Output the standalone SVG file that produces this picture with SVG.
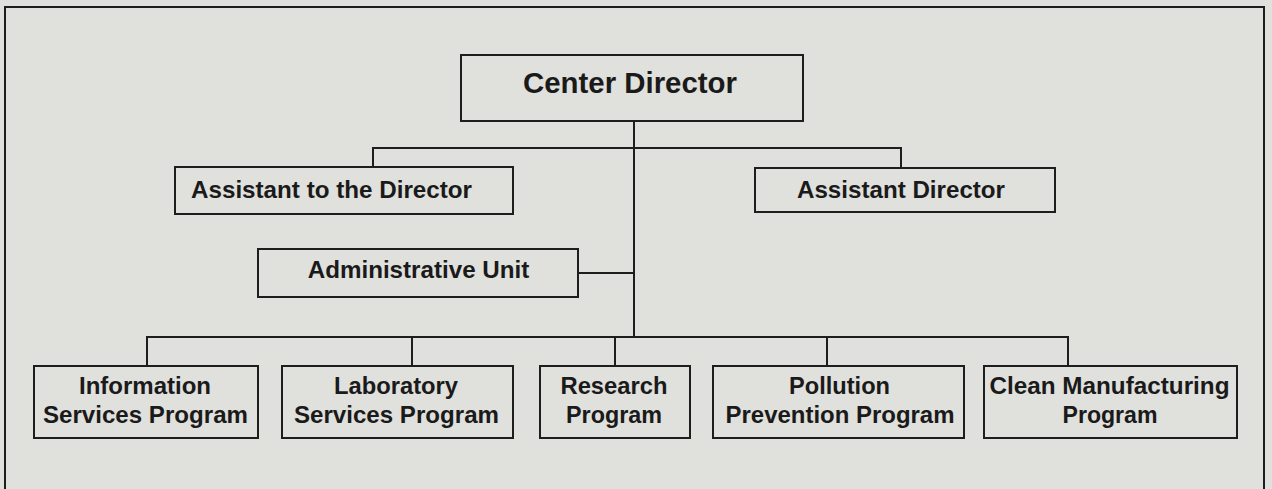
<svg xmlns="http://www.w3.org/2000/svg" width="1272" height="489" viewBox="0 0 1272 489">
<style>
.box{fill:#e0e0dc;stroke:#1e1e1e;stroke-width:2}
.t{font-family:"Liberation Sans",Arial,sans-serif;font-weight:bold;font-size:24px;fill:#1a1a1a;text-anchor:middle}
.c{fill:none;stroke:#1e1e1e;stroke-width:2}
</style>
<rect x="0" y="0" width="1272" height="489" fill="#e0e0dc"/>
<rect id="frame" x="5" y="7" width="1259" height="492" fill="none" stroke="#1e1e1e" stroke-width="2"/>
<g id="connectors">
<path class="c" d="M634 121V337"/>
<path class="c" d="M373 167V148H901V168"/>
<path class="c" d="M578 273H634"/>
<path class="c" d="M147 366V337H1068V366"/>
<path class="c" d="M412 337V366M615 337V366M827 337V366"/>
</g>
<g id="center-director">
<rect class="box" x="461" y="55" width="342" height="66"/>
<text class="t" x="630" y="93" style="font-size:29px" textLength="214" lengthAdjust="spacingAndGlyphs">Center Director</text>
</g>
<g id="assistant-to-director">
<rect class="box" x="175" y="167" width="338" height="47"/>
<text class="t" x="331.5" y="197.5" textLength="281" lengthAdjust="spacingAndGlyphs">Assistant to the Director</text>
</g>
<g id="assistant-director">
<rect class="box" x="755" y="168" width="300" height="44"/>
<text class="t" x="901" y="197.5" textLength="208" lengthAdjust="spacingAndGlyphs">Assistant Director</text>
</g>
<g id="administrative-unit">
<rect class="box" x="258" y="249" width="320" height="48"/>
<text class="t" x="418.5" y="277.5" textLength="221.5" lengthAdjust="spacingAndGlyphs">Administrative Unit</text>
</g>
<g id="information-services">
<rect class="box" x="34" y="366" width="224" height="72"/>
<text class="t" x="145" y="393.5" textLength="132" lengthAdjust="spacingAndGlyphs">Information</text>
<text class="t" x="145.5" y="423" textLength="205" lengthAdjust="spacingAndGlyphs">Services Program</text>
</g>
<g id="laboratory-services">
<rect class="box" x="282" y="366" width="231" height="72"/>
<text class="t" x="396" y="393.5" textLength="124" lengthAdjust="spacingAndGlyphs">Laboratory</text>
<text class="t" x="396.5" y="423" textLength="205" lengthAdjust="spacingAndGlyphs">Services Program</text>
</g>
<g id="research">
<rect class="box" x="540" y="366" width="150" height="72"/>
<text class="t" x="614" y="393.5" textLength="107" lengthAdjust="spacingAndGlyphs">Research</text>
<text class="t" x="614" y="423" textLength="96" lengthAdjust="spacingAndGlyphs">Program</text>
</g>
<g id="pollution-prevention">
<rect class="box" x="713" y="366" width="251" height="72"/>
<text class="t" x="839.5" y="393.5" textLength="101" lengthAdjust="spacingAndGlyphs">Pollution</text>
<text class="t" x="840" y="423" textLength="229" lengthAdjust="spacingAndGlyphs">Prevention Program</text>
</g>
<g id="clean-manufacturing">
<rect class="box" x="984" y="366" width="253" height="72"/>
<text class="t" x="1109.5" y="393.5" textLength="240" lengthAdjust="spacingAndGlyphs">Clean Manufacturing</text>
<text class="t" x="1110" y="423" textLength="95" lengthAdjust="spacingAndGlyphs">Program</text>
</g>
</svg>
